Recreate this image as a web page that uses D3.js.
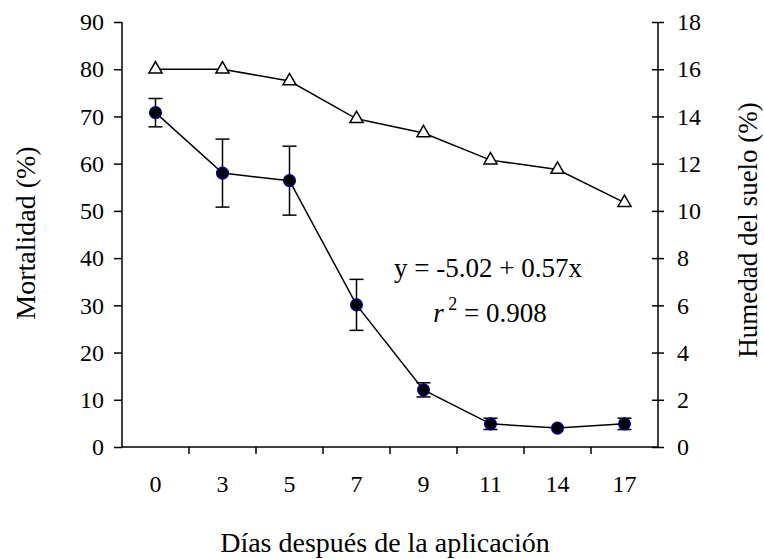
<!DOCTYPE html>
<html>
<head>
<meta charset="utf-8">
<script src="https://cdn.jsdelivr.net/npm/d3@7"></script>
<style>
  body { margin: 0; background: #fff; }
  svg, svg text, svg tspan { font-family: "Liberation Serif" !important; }
</style>
</head>
<body>
<svg width="764" height="559" font-family="Liberation Serif"></svg>
<script>

const dias = ["0", "3", "5", "7", "9", "11", "14", "17"];
const mortalidad = [70.8, 58.0, 56.4, 30.1, 12.1, 4.9, 4.0, 4.9];
const errorEst = [3.0, 7.2, 7.3, 5.4, 1.5, 1.2, 0, 1.2];
const humedad = [16.0, 16.0, 15.5, 13.9, 13.3, 12.15, 11.75, 10.35];
const ticksIzq = [0, 10, 20, 30, 40, 50, 60, 70, 80, 90];
const ticksDer = [0, 2, 4, 6, 8, 10, 12, 14, 16, 18];

const FONT = "Liberation Serif";

const svg = d3.select("svg");

const mLeft = 122, mRight = 658, mTop = 22, mBottom = 447;

const x = d3.scaleBand().domain(dias).range([mLeft, mRight]);
const yL = d3.scaleLinear().domain([0, 90]).range([mBottom, mTop]);
const yR = d3.scaleLinear().domain([0, 18]).range([mBottom, mTop]);

// axes
const axL = svg.append("g").attr("transform", `translate(${mLeft},0)`)
  .call(d3.axisLeft(yL).tickValues(ticksIzq).tickSize(8).tickPadding(10));
const axR = svg.append("g").attr("transform", `translate(${mRight},0)`)
  .call(d3.axisRight(yR).tickValues(ticksDer).tickSize(6).tickPadding(13));
axR.selectAll(".tick line").attr("x1", -6);
const axX = svg.append("g").attr("transform", `translate(0,${mBottom})`)
  .call(d3.axisBottom(x).tickSize(0).tickPadding(28));

// x ticks at band edges
axX.selectAll(".edge").data(dias.slice(1)).enter().append("line")
  .attr("class", "edge")
  .attr("x1", d => x(d)).attr("x2", d => x(d))
  .attr("y1", 0).attr("y2", 7)
  .attr("stroke", "#000").attr("stroke-width", 1.5);

[axL, axR, axX].forEach(a => {
  a.attr("font-family", FONT).attr("font-size", 24);
  a.select(".domain").attr("stroke", "#000").attr("stroke-width", 1.5);
  a.selectAll(".tick line").attr("stroke", "#000").attr("stroke-width", 1.5);
  a.selectAll("text").attr("fill", "#000");
});
axL.select(".domain").attr("d", `M0,${mTop}V${mBottom}`);
axR.select(".domain").attr("d", `M0,${mTop}V${mBottom}`);
axX.select(".domain").attr("d", `M${mLeft},0H${mRight}`);

const cx = d => x(d) + x.bandwidth() / 2;

// humidity line
svg.append("path")
  .datum(dias)
  .attr("fill", "none").attr("stroke", "#000").attr("stroke-width", 1.5)
  .attr("d", d3.line().x(d => cx(d)).y((d, i) => yR(humedad[i])));

svg.selectAll(".tri").data(dias).enter().append("path")
  .attr("class", "tri")
  .attr("transform", (d, i) => `translate(${cx(d)},${yR(humedad[i])})`)
  .attr("d", d3.symbol(d3.symbolTriangle, 75))
  .attr("fill", "#fff").attr("stroke", "#000").attr("stroke-width", 1.5);

// mortality line
svg.append("path")
  .datum(dias)
  .attr("fill", "none").attr("stroke", "#000").attr("stroke-width", 1.5)
  .attr("d", d3.line().x(d => cx(d)).y((d, i) => yL(mortalidad[i])));

// error bars
const eb = svg.selectAll(".err").data(dias.filter((d, i) => errorEst[i] > 0)).enter().append("g")
  .attr("class", "err");
const hi = d => yL(mortalidad[dias.indexOf(d)] + errorEst[dias.indexOf(d)]);
const lo = d => yL(mortalidad[dias.indexOf(d)] - errorEst[dias.indexOf(d)]);
eb.append("line")
  .attr("x1", d => cx(d)).attr("x2", d => cx(d))
  .attr("y1", hi).attr("y2", lo);
eb.append("line")
  .attr("x1", d => cx(d) - 7).attr("x2", d => cx(d) + 7)
  .attr("y1", hi).attr("y2", hi);
eb.append("line")
  .attr("x1", d => cx(d) - 7).attr("x2", d => cx(d) + 7)
  .attr("y1", lo).attr("y2", lo);
eb.selectAll("line").attr("stroke", "#000").attr("stroke-width", 1.5);

svg.selectAll(".pt").data(dias).enter().append("circle")
  .attr("class", "pt")
  .attr("cx", d => cx(d)).attr("cy", (d, i) => yL(mortalidad[i]))
  .attr("r", 5.8)
  .attr("fill", "#000").attr("stroke", "#000080").attr("stroke-width", 1.5);

// equation
svg.append("text").attr("x", 488).attr("y", 277).attr("text-anchor", "middle")
  .attr("font-size", 27).text("y = -5.02 + 0.57x");
const r2 = svg.append("text").attr("x", 490).attr("y", 322).attr("text-anchor", "middle")
  .attr("font-size", 27);
r2.append("tspan").attr("font-style", "italic").text("r");
r2.append("tspan").attr("dy", -12).attr("font-size", 18).text(" 2");
r2.append("tspan").attr("dy", 12).text(" = 0.908");

// axis titles
svg.append("text").attr("transform", "translate(35,233) rotate(-90)")
  .attr("text-anchor", "middle").attr("font-size", 28).text("Mortalidad (%)");
svg.append("text").attr("transform", "translate(757,230) rotate(-90)")
  .attr("text-anchor", "middle").attr("font-size", 27).text("Humedad del suelo (%)");
svg.append("text").attr("x", 385).attr("y", 552)
  .attr("text-anchor", "middle").attr("font-size", 28).text("Días después de la aplicación");

svg.selectAll("text").attr("font-family", FONT).style("font-family", FONT);

</script>
</body>
</html>
